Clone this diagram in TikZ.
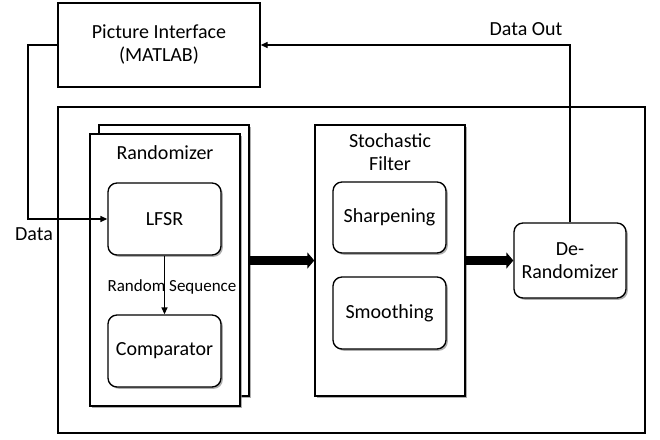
\documentclass[tikz,border=0pt]{standalone}
\usepackage{fontspec}
\setmainfont{Carlito}
\usetikzlibrary{arrows.meta,shadows}
\begin{document}
\begin{tikzpicture}[x=1pt,y=-1pt,
  every node/.style={font=\fontsize{20}{23}\selectfont},
  box/.style={draw,line width=1.35pt,inner sep=0pt,fill=white},
  shbox/.style={box,drop shadow={shadow xshift=1.8pt,shadow yshift=-1.8pt,fill=black!45,opacity=0.7}},
  rbox/.style={shbox,rounded corners=9pt,minimum width=113pt,minimum height=72pt,align=center},
  thin/.style={line width=1.35pt,-{Triangle[length=7pt,width=6pt]}},
  thick/.style={line width=9pt,-{Triangle[length=7pt,width=16pt]}},
  lbl/.style={inner sep=0pt,align=center}]
\useasboundingbox (0,0) rectangle (660,439);
\node[box,minimum width=202pt,minimum height=84pt,align=center] (pi) at (159,45) {Picture Interface\\(MATLAB)};
\node[box,minimum width=587pt,minimum height=326pt] (outer) at (351.5,270) {};
\node[shbox,minimum width=150pt,minimum height=271pt] (rback) at (174,260.5) {};
\node[shbox,minimum width=150pt,minimum height=272pt] (rfront) at (165,270) {};
\node[lbl] (rlabel) at (165,153) {Randomizer};
\node[rbox] (lfsr) at (164.5,219) {LFSR};
\node[rbox] (comp) at (164.5,351) {Comparator};
\node[shbox,minimum width=150pt,minimum height=271pt] (filter) at (390,260.5) {};
\node[lbl,font=\fontsize{20}{23}\selectfont] (flabel) at (390,152) {Stochastic\\Filter};
\node[rbox,minimum height=71pt] (sharp) at (389.5,217.5) {Sharpening};
\node[rbox] (smooth) at (389.5,313) {Smoothing};
\node[rbox,minimum width=112pt,minimum height=75pt,font=\fontsize{20}{23}\selectfont] (derand) at (570,260.5) {De-\\Randomizer};
\node[lbl] (data) at (34,234) {Data};
\node[lbl] (dataout) at (526,29) {Data Out};
\node[lbl,font=\fontsize{17}{20}\selectfont] (rseq) at (172,287) {Random Sequence};
\coordinate (c1) at (28,45);
\coordinate (c2) at (28,219);
\coordinate (c3) at (570,45);
\draw[thin] (pi.west) -- (c1) -- (c2) -- (lfsr.west);
\draw[thin] (derand.north) -- (c3) -- (pi.east);
\draw[thin] (lfsr.south) -- (comp.north);
\draw[thick] (rback.east) -- (filter.west);
\draw[thick] (filter.east) -- (derand.west);
\end{tikzpicture}
\end{document}
